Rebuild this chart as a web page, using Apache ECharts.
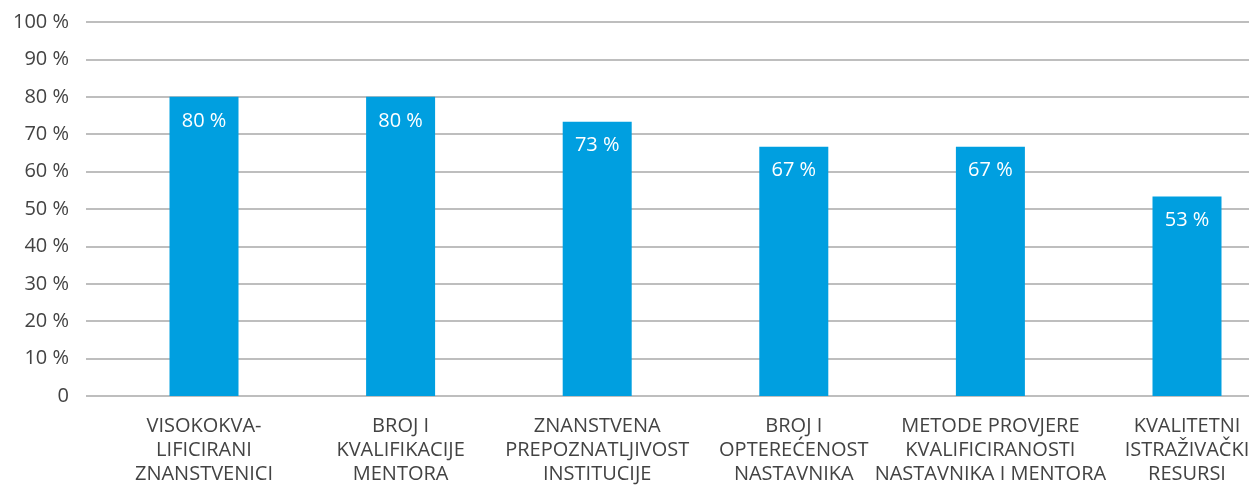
<!DOCTYPE html>
<html>
<head>
<meta charset="utf-8">
<script src="https://cdn.jsdelivr.net/npm/echarts@6/dist/echarts.min.js"></script>
<style>
  html, body { margin: 0; padding: 0; background: #ffffff; }
  #chart { width: 1249px; height: 485px; }
</style>
</head>
<body>
<div id="chart"></div>
<script>
const categories = [
  'VISOKOKVA-\nLIFICIRANI\nZNANSTVENICI',
  'BROJ I\nKVALIFIKACIJE\nMENTORA',
  'ZNANSTVENA\nPREPOZNATLJIVOST\nINSTITUCIJE',
  'BROJ I\nOPTEREĆENOST\nNASTAVNIKA',
  'METODE PROVJERE\nKVALIFICIRANOSTI\nNASTAVNIKA I MENTORA',
  'KVALITETNI\nISTRAŽIVAČKI\nRESURSI'
];
const values = [80, 80, 73.33, 66.67, 66.67, 53.33];
const yTickLabels = ['0', '10 %', '20 %', '30 %', '40 %', '50 %', '60 %', '70 %', '80 %', '90 %', '100 %'];

const FONT = '"Open Sans", "Noto Sans", sans-serif';
const TEXT = '#434343';

const chart = echarts.init(document.getElementById('chart'), null, { renderer: 'canvas' });
chart.setOption({
  animation: false,
  backgroundColor: '#ffffff',
  grid: [
    { left: 86, right: 0, top: 22, bottom: 89, outerBoundsMode: 'none', containLabel: false },
    { left: 204, right: 62, top: 22, bottom: 89, outerBoundsMode: 'none', containLabel: false }
  ],
  xAxis: [
    { type: 'value', gridIndex: 0, show: false, min: 0, max: 1 },
    {
      type: 'category', gridIndex: 1, data: categories, boundaryGap: false,
      axisLine: { show: false }, axisTick: { show: false },
      axisLabel: {
        interval: 0, margin: 18, color: TEXT, fontFamily: FONT,
        fontSize: 20, lineHeight: 24, align: 'center'
      }
    }
  ],
  yAxis: [
    {
      type: 'value', gridIndex: 0, min: 0, max: 100, interval: 10,
      axisLine: { show: false }, axisTick: { show: false },
      axisLabel: {
        margin: 17, color: TEXT, fontFamily: FONT, fontSize: 20,
        formatter: function (v) { return yTickLabels[Math.round(v / 10)]; }
      },
      splitLine: { show: true, lineStyle: { color: '#a9a9a9', width: 1.6 } }
    },
    {
      type: 'value', gridIndex: 1, min: 0, max: 100, interval: 10, show: false,
      splitLine: { show: false }
    }
  ],
  series: [
    {
      type: 'bar', xAxisIndex: 1, yAxisIndex: 1, data: values, barWidth: 69,
      itemStyle: { color: '#009fe0' },
      label: {
        show: true, position: 'insideTop', distance: 14,
        color: '#ffffff', fontFamily: FONT, fontSize: 20, lineHeight: 20,
        formatter: function (p) { return Math.round(p.value) + ' %'; }
      }
    }
  ]
});
</script>
</body>
</html>
